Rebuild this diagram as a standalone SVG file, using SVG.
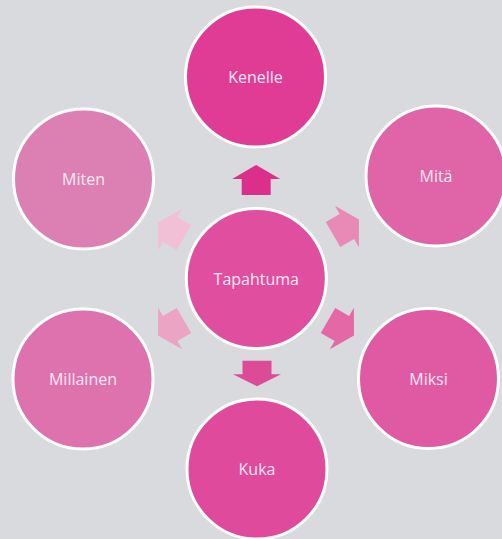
<svg xmlns="http://www.w3.org/2000/svg" width="502" height="539" viewBox="0 0 502 539">
  <style>
    .node circle { stroke: #ffffff; stroke-width: 3; }
    .node text { font-family: "Open Sans", "Noto Sans", sans-serif; font-size: 16px; fill: #fde8f3; text-anchor: middle; }
  </style>
  <defs>
    <polygon id="arrow" points="0,-15 24,-1 14.5,-1 14.5,15 -14.5,15 -14.5,-1 -24,-1"/>
  </defs>
  <rect width="502" height="539" fill="#d9dadd"/>
  <g id="connectors">
    <use href="#arrow" fill="#dc2f8c" transform="translate(256.2,180)"/>
    <use href="#arrow" fill="#e98ab6" transform="translate(346,227) rotate(60)"/>
    <use href="#arrow" fill="#e568a6" transform="translate(341,328) rotate(120)"/>
    <use href="#arrow" fill="#dc4a98" transform="translate(257,373.5) rotate(180) scale(1,0.85)"/>
    <use href="#arrow" fill="#eca4c4" transform="translate(171,328) rotate(240)"/>
    <use href="#arrow" fill="#f2c0d6" transform="translate(171,230) rotate(300)"/>
  </g>
  <g id="node-kenelle" class="node">
    <circle cx="255.5" cy="77" r="70" fill="#e03c96"/>
    <text x="255.5" y="83">Kenelle</text>
  </g>
  <g id="node-mita" class="node">
    <circle cx="436" cy="176" r="70" fill="#e065a8"/>
    <text x="436" y="182">Mitä</text>
  </g>
  <g id="node-miksi" class="node">
    <circle cx="428.5" cy="378.5" r="70" fill="#e05aa3"/>
    <text x="428.5" y="384.5">Miksi</text>
  </g>
  <g id="node-kuka" class="node">
    <circle cx="257" cy="469" r="70" fill="#e04a9c"/>
    <text x="257" y="475">Kuka</text>
  </g>
  <g id="node-millainen" class="node">
    <circle cx="83" cy="379" r="70" fill="#de72ae"/>
    <text x="83" y="385">Millainen</text>
  </g>
  <g id="node-miten" class="node">
    <circle cx="83.5" cy="179" r="70" fill="#dc80b4"/>
    <text x="83.5" y="185">Miten</text>
  </g>
  <g id="node-tapahtuma" class="node">
    <circle cx="256.3" cy="278.5" r="70" fill="#e04f9f"/>
    <text x="256.3" y="285">Tapahtuma</text>
  </g>
</svg>
